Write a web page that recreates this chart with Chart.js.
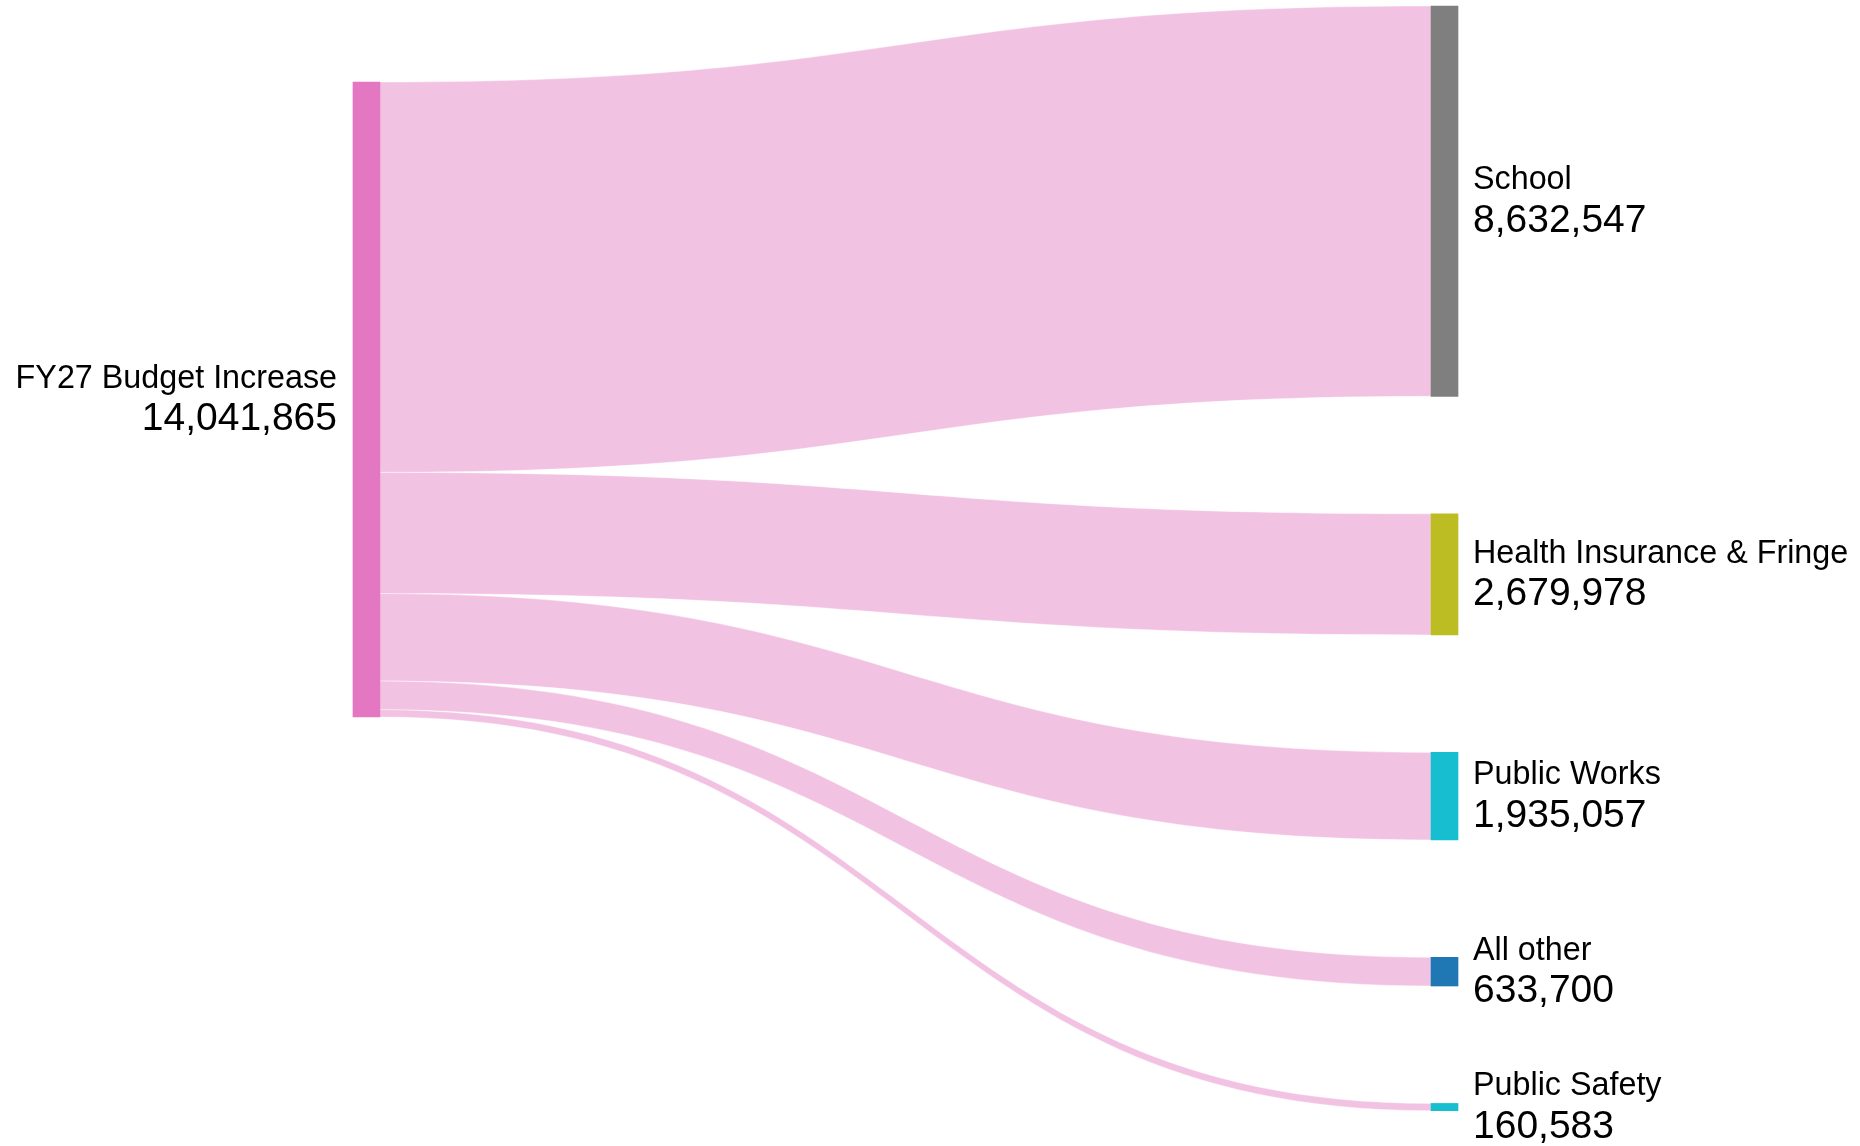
<!DOCTYPE html>
<html>
<head>
<meta charset="utf-8">
<title>FY27 Budget Increase</title>
<script src="https://cdn.jsdelivr.net/npm/chart.js@4.4.1/dist/chart.umd.min.js"></script>
<style>
    html, body { margin: 0; padding: 0; background: #fff; }
    #wrap { width: 1860px; height: 1146px; position: relative; }
</style>
</head>
<body>
<div id="wrap"><canvas id="sankey"></canvas></div>
<script>
// data
const sourceName = "FY27 Budget Increase";
const targetNames = ["School", "Health Insurance & Fringe", "Public Works", "All other", "Public Safety"];
const targetValues = [8632547, 2679978, 1935057, 633700, 160583];
const yAxisMax = 24430000;

// styles
const sourceColor = "#e377c2";
const targetColors = ["#7f7f7f", "#bcbd22", "#17becf", "#1f77b4", "#17becf"];
const linkColor = "rgba(227, 119, 194, 0.45)";
const fontFamily = "'Liberation Sans', Arial, sans-serif";

// node layout: targets stacked with equal gaps over the whole axis
const total = targetValues.reduce((a, b) => a + b, 0);
const gap = (yAxisMax - total) / (targetValues.length - 1);
const targetSpans = [];
let cursor = 0;
targetValues.forEach(v => {
    targetSpans.push([cursor, cursor + v]);
    cursor += v + gap;
});

// source sits on the weighted centre of its targets
const centre = targetSpans.reduce((s, span, i) => s + (span[0] + span[1]) / 2 * targetValues[i], 0) / total;
const sourceSpan = [centre - total / 2, centre + total / 2];

// slice of the source node used by each link
const linkSpans = [];
let sy = sourceSpan[0];
targetValues.forEach(v => {
    linkSpans.push([sy, sy + v]);
    sy += v;
});

const nodeData = [{ x: 0, y: sourceSpan }].concat(targetSpans.map(s => ({ x: 1, y: s })));
const nodeNames = [sourceName].concat(targetNames);
const nodeValues = [total].concat(targetValues);

const linksPlugin = {
    id: "links",
    beforeDatasetsDraw(chart) {
        const ctx = chart.ctx;
        const ys = chart.scales.y;
        const bars = chart.getDatasetMeta(0).data;
        const src = bars[0];
        const x0 = src.x + src.width / 2;
        ctx.save();
        targetValues.forEach((v, i) => {
            const tgt = bars[i + 1];
            const x1 = tgt.x - tgt.width / 2;
            const xm = (x0 + x1) / 2;
            const a0 = ys.getPixelForValue(linkSpans[i][0]);
            const a1 = ys.getPixelForValue(linkSpans[i][1]);
            const b0 = ys.getPixelForValue(targetSpans[i][0]);
            const b1 = ys.getPixelForValue(targetSpans[i][1]);
            ctx.beginPath();
            ctx.moveTo(x0, a0);
            ctx.bezierCurveTo(xm, a0, xm, b0, x1, b0);
            ctx.lineTo(x1, b1);
            ctx.bezierCurveTo(xm, b1, xm, a1, x0, a1);
            ctx.closePath();
            ctx.fillStyle = linkColor;
            ctx.fill();
            ctx.lineWidth = 0.6;
            ctx.strokeStyle = "rgba(255,255,255,0.7)";
            ctx.stroke();
        });
        ctx.restore();
    }
};

const labelsPlugin = {
    id: "nodeLabels",
    afterDatasetsDraw(chart) {
        const ctx = chart.ctx;
        const bars = chart.getDatasetMeta(0).data;
        ctx.save();
        ctx.fillStyle = "#000";
        ctx.textBaseline = "alphabetic";
        bars.forEach((bar, i) => {
            const cy = (bar.y + bar.base) / 2;
            let x;
            if (i === 0) {
                ctx.textAlign = "right";
                x = bar.x - bar.width / 2 - 16;
            } else {
                ctx.textAlign = "left";
                x = bar.x + bar.width / 2 + 15;
            }
            ctx.font = "32.3px " + fontFamily;
            ctx.fillText(nodeNames[i], x, cy - 11.8);
            ctx.font = "39px " + fontFamily;
            ctx.fillText(nodeValues[i].toLocaleString("en-US"), x, cy + 30.8);
        });
        ctx.restore();
    }
};

new Chart(document.getElementById("sankey"), {
    type: "bar",
    data: {
        datasets: [{
            data: nodeData,
            backgroundColor: [sourceColor].concat(targetColors),
            borderWidth: 0,
            barThickness: 27,
            clip: false
        }]
    },
    options: {
        responsive: true,
        maintainAspectRatio: false,
        animation: false,
        events: [],
        layout: { padding: { left: 366.5, right: 415.5, top: 6, bottom: 35.3 } },
        scales: {
            x: { type: "linear", min: 0, max: 1, display: false, offset: false, grid: { display: false } },
            y: { type: "linear", min: 0, max: yAxisMax, reverse: true, display: false, grid: { display: false } }
        },
        plugins: {
            legend: { display: false },
            tooltip: { enabled: false }
        }
    },
    plugins: [linksPlugin, labelsPlugin]
});
</script>
</body>
</html>
